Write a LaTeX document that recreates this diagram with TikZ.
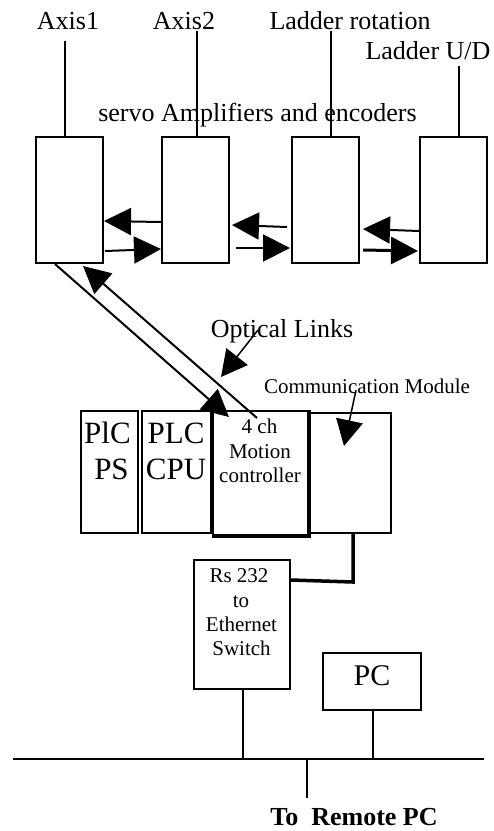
\documentclass[tikz,border=0pt]{standalone}
\usepackage{fontspec}
\setmainfont{Liberation Serif}
\usetikzlibrary{arrows.meta,calc}
\tikzset{
  blk/.style 2 args={draw,line width=2pt,inner sep=0pt,minimum width=#1pt,minimum height=#2pt},
  lbl/.style={anchor=base,inner sep=0pt,font=\fontsize{26}{30}\selectfont},
  sml/.style={anchor=base,inner sep=0pt,font=\fontsize{21}{24}\selectfont},
  big/.style={anchor=base,inner sep=0pt,font=\fontsize{31}{34}\selectfont},
  wire/.style={line width=2pt},
  arr/.style={line width=2pt,-{Triangle[length=27pt,width=27pt]}},
  sarr/.style={line width=1.5pt,-{Triangle[length=26pt,width=27pt]}}
}
\begin{document}
\begin{tikzpicture}[x=1pt,y=-1pt]
\useasboundingbox (0,0) rectangle (494,831);
% servo boxes
\node[blk={67}{126}] (b1) at (69.5,200) {};
\node[blk={67}{126}] (b2) at (195.5,200) {};
\node[blk={67}{126}] (b3) at (325.5,200) {};
\node[blk={67}{126}] (b4) at (453.5,200) {};
% labels
\node[lbl] (t1) at (68,29) {Axis1};
\node[lbl] (t2) at (184,29) {Axis2};
\node[lbl] (t3) at (350,29) {Ladder rotation};
\node[lbl] (t4) at (428,59) {Ladder U/D};
\node[lbl] (tsv) at (257.5,121) {servo Amplifiers and encoders};
% axis wires
\coordinate (a1) at (65,41);
\coordinate (a2) at (197,31);
\coordinate (a3) at (331,31);
\coordinate (a4) at (459,66);
\draw[wire] (a1) -- (a1 |- b1.north);
\draw[wire] (a2) -- (a2 |- b2.north);
\draw[wire] (a3) -- (a3 |- b3.north);
\draw[wire] (a4) -- (a4 |- b4.north);
% inter-box arrows
\draw[arr] ($(b2.west)+(0,22)$) -- ($(b1.east)+(0,21)$);
\draw[arr] ($(b1.east)+(1,51)$) -- ($(b2.west)+(0,49)$);
\draw[arr] ($(b3.west)+(-4,27)$) -- ($(b2.east)+(2,25)$);
\draw[arr] ($(b2.east)+(6,48)$) -- ($(b3.west)+(-1,48)$);
\draw[arr] ($(b4.west)+(0,31)$) -- ($(b3.east)+(3,29)$);
\draw[arr,line width=3pt] ($(b3.east)+(3,50)$) -- ($(b4.west)+(-1,51)$);
% PLC rack
\node[blk={57}{122}] (ps) at (109.5,472) {};
\node[blk={69}{122}] (cpu) at (176.5,472) {};
\node[blk={95}{124}] (mc) at (260.5,473) {};
\node[blk={83}{120}] (cm) at (349.5,473) {};
\draw[line width=3pt] (mc.north east) -- (mc.south east) -- (mc.south west);
\node[big] at (107.5,443) {PlC};
\node[big] at (111.5,479) {PS};
\node[big] at (176,443) {PLC};
\node[big] at (176,479) {CPU};
\node[sml] at (259.5,433) {4 ch};
\node[sml] at (260,458) {Motion};
\node[sml] at (260,482) {controller};
% optical links
\draw[arr] ($(b1.south)+(-14.5,0)$) -- ($(mc.north west)+(17,7)$);
\draw[arr] ($(mc.north west)+(45,8)$) -- ($(b1.south)+(13.5,2)$);
\node[lbl] (opt) at (282,337) {Optical Links};
\coordinate (optstart) at (258,330);
\draw[sarr] (optstart) -- ($(mc.north west)+(9,-33)$);
\node[sml] (com) at (367,393) {Communication Module};
\coordinate (comstart) at (356,390);
\draw[sarr] (comstart) -- ($(cm.north west)+(37,34)$);
% RS232 switch
\node[blk={96}{129}] (rs) at (242,624.5) {};
\node[sml] at (239,582) {Rs 232};
\node[sml] at (241,607) {to};
\node[sml] at (241.5,631) {Ethernet};
\node[sml] at (241.5,655) {Switch};
\draw[line width=3.5pt] ($(cm.south west)+(46,0)$) -- ($(cm.south west)+(46,48)$) -- ($(rs.north east)+(0,21)$);
% PC
\node[blk={98}{57}] (pc) at (372,681.5) {};
\node[font=\fontsize{30}{34}\selectfont,anchor=base,inner sep=0pt] at (372,685) {PC};
% bus
\coordinate (busl) at (13,759);
\coordinate (busr) at (484,759);
\draw[wire] (busl) -- (busr);
\coordinate (rsdrop) at (243,759);
\coordinate (pcdrop) at (373,759);
\draw[wire] (rsdrop |- rs.south) -- (rsdrop);
\draw[wire] (pcdrop |- pc.south) -- (pcdrop);
\coordinate (rem) at (307,798);
\draw[wire] (rem |- busl) -- (rem);
\node[anchor=base,inner sep=0pt,font=\fontsize{26}{30}\selectfont\bfseries] at (354,825) {To\ \ Remote PC};
\end{tikzpicture}
\end{document}
